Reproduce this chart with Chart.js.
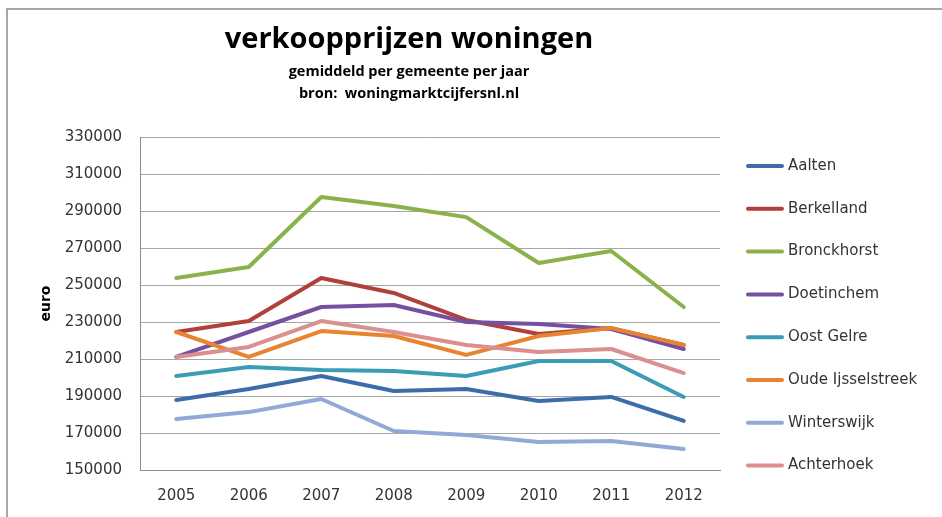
<!DOCTYPE html>
<html lang="nl">
<head>
    <meta charset="UTF-8">
    <title>verkoopprijzen woningen</title>
    <script src="https://cdn.jsdelivr.net/npm/chart.js@4/dist/chart.umd.min.js"></script>
    <style>
        body { margin: 0; background: #fff; }
        canvas { display: block; }
    </style>
</head>
<body>
    <canvas id="myChart" width="942" height="517"></canvas>

    <script>
        // jaren en waarden
        const jaren = ['2005', '2006', '2007', '2008', '2009', '2010', '2011', '2012'];
        const yTicks = [150000, 170000, 190000, 210000, 230000, 250000, 270000, 290000, 310000, 330000];

        const aalten      = [187800, 193800, 200800, 192700, 193800, 187300, 189500, 176500];
        const berkelland  = [224600, 230500, 253800, 245700, 231100, 223500, 226700, 217600];
        const bronckhorst = [253800, 259700, 297600, 292700, 286700, 261900, 268400, 238100];
        const doetinchem  = [211100, 224600, 238100, 239200, 230000, 228900, 226200, 215400];
        const oostGelre   = [200800, 205700, 204100, 203500, 200800, 208900, 208900, 189500];
        const oudeIjssel  = [224600, 211100, 225100, 222400, 212200, 222400, 226700, 217600];
        const winterswijk = [177600, 181300, 188400, 171100, 168900, 165100, 165700, 161400];
        const achterhoek  = [211100, 216500, 230500, 224600, 217600, 213800, 215400, 202400];

        const namen = ['Aalten', 'Berkelland', 'Bronckhorst', 'Doetinchem', 'Oost Gelre', 'Oude Ijsselstreek', 'Winterswijk', 'Achterhoek'];
        const reeksen = [aalten, berkelland, bronckhorst, doetinchem, oostGelre, oudeIjssel, winterswijk, achterhoek];
        const kleuren = ['#3d6da8', '#b0403c', '#8bb24a', '#7550a0', '#3a9db5', '#e8842f', '#92a9d8', '#d9908e'];

        const fontTekst = 'DejaVu Sans';

        // titel, kader en legende zelf tekenen
        const extraTekenen = {
            id: 'extraTekenen',
            beforeDraw(chart) {
                const c = chart.ctx;
                c.save();
                c.fillStyle = '#fff';
                c.fillRect(0, 0, chart.width, chart.height);
                c.strokeStyle = '#8a8a8a';
                c.lineWidth = 1.5;
                c.beginPath();
                c.moveTo(7, chart.height + 2);
                c.lineTo(7, 9);
                c.lineTo(chart.width + 2, 9);
                c.stroke();
                c.restore();
            },
            afterDraw(chart) {
                const c = chart.ctx;
                c.save();
                c.fillStyle = '#000';
                c.textAlign = 'center';
                c.textBaseline = 'middle';
                c.font = 'bold 29px "Open Sans"';
                c.fillText('verkoopprijzen woningen', 409, 40);
                c.font = 'bold 14.5px "Open Sans"';
                c.fillText('gemiddeld per gemeente per jaar', 409, 72);
                c.fillText('bron:  woningmarktcijfersnl.nl', 409, 94);

                // legende
                c.textAlign = 'left';
                c.font = '15px "' + fontTekst + '"';
                chart.data.datasets.forEach((ds, i) => {
                    const y = 166 + i * 42.8;
                    c.strokeStyle = ds.borderColor;
                    c.lineWidth = 4;
                    c.lineCap = 'round';
                    c.beginPath();
                    c.moveTo(748, y);
                    c.lineTo(782, y);
                    c.stroke();
                    c.fillStyle = '#333';
                    c.fillText(ds.label, 788, y);
                });
                c.restore();
            }
        };

        const ctx = document.getElementById('myChart');

        new Chart(ctx, {
            type: 'line',
            data: {
                labels: jaren,
                datasets: reeksen.map((r, i) => ({
                    label: namen[i],
                    data: r,
                    borderColor: kleuren[i],
                    backgroundColor: kleuren[i],
                    borderWidth: 4,
                    pointRadius: 0,
                    tension: 0,
                    borderCapStyle: 'round',
                    borderJoinStyle: 'round',
                    order: reeksen.length - i
                }))
            },
            options: {
                responsive: false,
                animation: false,
                layout: {
                    padding: { top: 137, right: 222, bottom: 0, left: 0 }
                },
                scales: {
                    x: {
                        offset: true,
                        grid: { display: false, drawTicks: false },
                        border: { color: '#8c8c8c', width: 1 },
                        ticks: {
                            padding: 17,
                            color: '#333',
                            font: { family: fontTekst, size: 15 }
                        },
                        afterFit(scale) { scale.height = 47; }
                    },
                    y: {
                        min: yTicks[0],
                        max: yTicks[yTicks.length - 1],
                        afterBuildTicks(scale) {
                            scale.ticks = yTicks.map(v => ({ value: v }));
                        },
                        grid: { color: '#a6a6a6', drawTicks: false },
                        border: { color: '#8c8c8c', width: 1 },
                        ticks: {
                            padding: 18,
                            color: '#333',
                            font: { family: fontTekst, size: 15 },
                            callback: v => String(v)
                        },
                        title: {
                            display: true,
                            text: 'euro',
                            color: '#000',
                            padding: { top: 38 },
                            font: { family: fontTekst, size: 14, weight: 'bold' }
                        },
                        afterFit(scale) { scale.width = 140; }
                    }
                },
                plugins: {
                    legend: { display: false },
                    tooltip: { enabled: false }
                }
            },
            plugins: [extraTekenen]
        });
    </script>
</body>
</html>
